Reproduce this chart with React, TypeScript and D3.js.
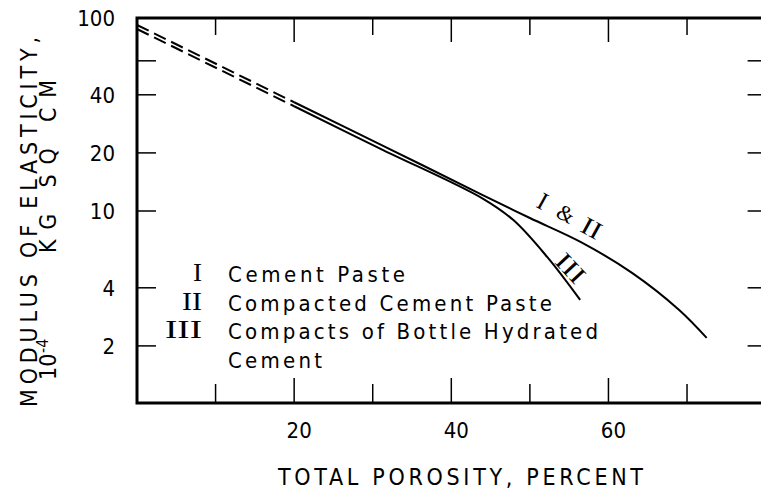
import React from 'react'
import * as d3 from "d3";

// total porosity (percent) and modulus of elasticity (10^-4 kg sq cm)
const porosityUpper = [0, 20, 31, 44, 50, 56.5, 63, 69, 72.5];
const modulusUpper = [92, 36.6, 22.1, 12.1, 9.2, 6.9, 4.78, 3.07, 2.2];
const porosityLower = [0, 20, 31, 44, 47.9, 52.2, 56.4];
const modulusLower = [87.7, 34.9, 21.0, 11.6, 8.97, 5.78, 3.46];

const xTicks = [10, 20, 30, 40, 50, 60, 70];
const xLabels = [20, 40, 60];
const yTicks = [2, 4, 10, 20, 40, 60];
const yLabels = [2, 4, 10, 20, 40, 100];

const legendSymbols = ["I", "II", "III"];
const legendTexts = ["Cement Paste", "Compacted Cement Paste", "Compacts of Bottle Hydrated", "Cement"];

const sans = "'DejaVu Sans Condensed', 'DejaVu Sans', sans-serif";
const serif = "'Liberation Serif', serif";

function drawChart(svgRef: React.RefObject<SVGSVGElement>) {
  const width = 761;
  const height = 491;

  const x = d3.scaleLinear().domain([0, 80]).range([137, 765.6]);
  const y = d3.scaleLog().domain([1, 100]).range([404, 18]);

  const svg = d3.select(svgRef.current)
    .attr("width", width)
    .attr("height", height)
    .attr("viewBox", [0, 0, width, height]);

  svg.selectAll("*").remove();

  svg.append("rect").attr("width", width).attr("height", height).attr("fill", "#fff");

  const [x0, x1] = x.range();
  const [yb, yt] = y.range();

  // frame
  svg.append("path")
    .attr("d", `M${x1},${yt}H${x0}V${yb - 1}H${x1}`)
    .attr("fill", "none")
    .attr("stroke", "#000")
    .attr("stroke-width", 3);

  const major = (v: number) => xLabels.includes(v);

  // x ticks top and bottom
  svg.append("g").selectAll("line")
    .data(xTicks)
    .join("line")
      .attr("x1", d => x(d)).attr("x2", d => x(d))
      .attr("y1", yt).attr("y2", d => yt + (major(d) ? 24 : 17))
      .attr("stroke", "#000").attr("stroke-width", 1.5);

  svg.append("g").selectAll("line")
    .data(xTicks)
    .join("line")
      .attr("x1", d => x(d)).attr("x2", d => x(d))
      .attr("y1", yb - 1).attr("y2", d => yb - 1 - (major(d) ? 25 : 19))
      .attr("stroke", "#000").attr("stroke-width", 1.5);

  // y ticks left and right
  svg.append("g").selectAll("line")
    .data(yTicks)
    .join("line")
      .attr("x1", x0).attr("x2", x0 + 19)
      .attr("y1", d => y(d)).attr("y2", d => y(d))
      .attr("stroke", "#000").attr("stroke-width", 1.5);

  svg.append("g").selectAll("line")
    .data(yTicks)
    .join("line")
      .attr("x1", x1).attr("x2", x1 - 18)
      .attr("y1", d => y(d)).attr("y2", d => y(d))
      .attr("stroke", "#000").attr("stroke-width", 1.5);

  // tick labels
  svg.append("g")
      .attr("font-family", sans)
      .attr("font-size", 22)
      .attr("text-anchor", "end")
    .selectAll("text")
    .data(yLabels)
    .join("text")
      .attr("x", 115)
      .attr("y", d => y(d))
      .attr("dy", "0.36em")
      .text(d => d);

  svg.append("g")
      .attr("font-family", sans)
      .attr("font-size", 22)
      .attr("text-anchor", "middle")
    .selectAll("text")
    .data(xLabels)
    .join("text")
      .attr("x", d => x(d) + 5)
      .attr("y", 438)
      .text(d => d);

  // axis titles
  svg.append("text")
    .attr("x", 278).attr("y", 485)
    .attr("font-family", sans).attr("font-size", 23)
    .attr("textLength", 365).attr("lengthAdjust", "spacing")
    .text("TOTAL POROSITY, PERCENT");

  svg.append("text")
    .attr("transform", "translate(37,0) rotate(-90)")
    .attr("x", -407)
    .attr("font-family", sans).attr("font-size", 23)
    .attr("textLength", 370).attr("lengthAdjust", "spacing")
    .text("MODULUS OF ELASTICITY,");

  const unit = svg.append("text")
    .attr("transform", "translate(56,0) rotate(-90)")
    .attr("font-family", sans).attr("font-size", 23);
  unit.append("tspan").attr("x", -380).text("10");
  unit.append("tspan").attr("x", -353).attr("dy", -8).attr("font-size", 16).text("-4");
  unit.append("tspan").attr("x", -253).attr("dy", 8)
    .attr("textLength", 173).attr("lengthAdjust", "spacing")
    .text("KG SQ CM");

  // curves
  const line = d3.line<[number, number]>()
    .x(d => x(d[0]))
    .y(d => y(d[1]))
    .curve(d3.curveCatmullRom.alpha(0.5));

  const curves = [
    d3.zip(porosityUpper, modulusUpper) as [number, number][],
    d3.zip(porosityLower, modulusLower) as [number, number][],
  ];

  const g = svg.append("g").attr("fill", "none").attr("stroke", "#000").attr("stroke-width", 2);
  curves.forEach(pts => {
    g.append("path")
      .attr("d", line(pts.filter(d => d[0] <= 20)))
      .attr("stroke-dasharray", "13 6");
    g.append("path")
      .attr("d", line(pts.filter(d => d[0] >= 20)));
  });

  // curve labels
  const lab1 = svg.append("g")
    .attr("transform", `translate(${x(55.2)},${y(9.4)}) rotate(29)`)
    .attr("font-family", serif).attr("font-size", 25);
  lab1.append("text").attr("x", -36).attr("dy", "0.35em").text("I");
  lab1.append("text").attr("x", -14).attr("dy", "0.35em").attr("font-size", 22).text("&");
  lab1.append("text").attr("x", 14).attr("dy", "0.35em")
    .attr("textLength", 20).attr("lengthAdjust", "spacingAndGlyphs").text("II");

  svg.append("text")
    .attr("transform", `translate(${x(55.2)},${y(5.07)}) rotate(47)`)
    .attr("font-family", serif).attr("font-size", 25)
    .attr("x", -16).attr("dy", "0.35em")
    .attr("textLength", 32).attr("lengthAdjust", "spacingAndGlyphs")
    .text("III");

  // legend
  const rowY = [282, 310.5, 339, 368];
  const textLen = [177, 324, 370, 94];
  const symLen = [9, 20, 37];

  const legend = svg.append("g");
  legend.selectAll("text.sym")
    .data(legendSymbols)
    .join("text")
      .attr("class", "sym")
      .attr("x", (d, i) => 202 - symLen[i])
      .attr("y", (d, i) => rowY[i] - 1)
      .attr("font-family", serif).attr("font-size", 25)
      .attr("textLength", (d, i) => symLen[i])
      .attr("lengthAdjust", "spacingAndGlyphs")
      .text(d => d);

  legend.selectAll("text.lab")
    .data(legendTexts)
    .join("text")
      .attr("class", "lab")
      .attr("x", 228)
      .attr("y", (d, i) => rowY[i])
      .attr("font-family", sans).attr("font-size", 22)
      .attr("textLength", (d, i) => textLen[i])
      .attr("lengthAdjust", "spacing")
      .text(d => d);

  return svg.node();
}

const App: React.FunctionComponent = () => {
  const svg = React.useRef<SVGSVGElement>(null);

  React.useEffect(() => {
    drawChart(svg);
  }, [svg]);

  return (
    <div id="chart" style={{ position: "absolute", left: 0, top: 0 }}>
      <svg ref={svg} style={{ display: "block" }} />
    </div>
  );
};

export default App
